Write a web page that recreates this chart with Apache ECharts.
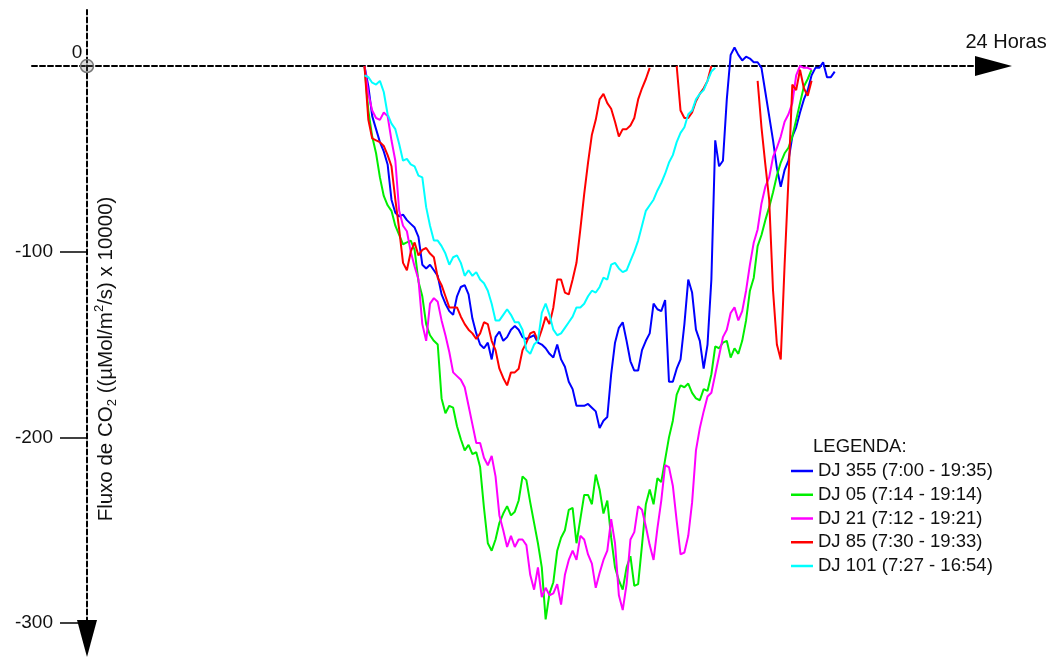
<!DOCTYPE html>
<html>
<head>
<meta charset="utf-8">
<script src="https://cdn.jsdelivr.net/npm/echarts@6/dist/echarts.min.js"></script>
<style>
  html, body { margin: 0; padding: 0; background: #ffffff; }
  #chart { width: 1055px; height: 657px; }
</style>
</head>
<body>
<div id="chart"></div>
<script>
// Sampling of the flux records: first sample hour and step (hours)
const startHour = 7.2;
const stepHour = 0.1;

const seriesNames = [
  'DJ 355 (7:00 - 19:35)',
  'DJ 05 (7:14 - 19:14)',
  'DJ 21 (7:12 - 19:21)',
  'DJ 85 (7:30 - 19:33)',
  'DJ 101 (7:27 - 16:54)'
];

// CO2 flux, (µMol/m²/s) x 10000; null = no value drawn
const dj355 = [
  0, -11, -27, -34, -41, -46, -53, -72, -79, -81,
  -80, -83, -85, -87, -92, -107, -109, -107, -110, -113,
  -123, -128, -132, -134, -124, -119, -118, -123, -136, -144,
  -150, -152, -149, -158, -146, -143, -148, -146, -142, -140,
  -142, -146, -147, -146, -145, -149, -150, -152, -155, -157,
  -150, -158, -162, -170, -174, -183, -183, -183, -182, -184,
  -186, -195, -191, -189, -166, -149, -141, -138, -148, -159,
  -164, -164, -153, -148, -144, -128, -131, -132, -126, -170,
  -170, -163, -158, -139, -115, -122, -142, -148, -163, -150,
  -115, -40, -54, -51, -18, 6, 10, 6, 3, 5,
  4, 2, 2, -1, -14, -27, -40, -55, -65, -56,
  -51, -38, -33, -25, -18, -13, -5, -1, -1, 2,
  -6, -6, -3];

const dj05 = [
  0, -24, -38, -47, -60, -70, -75, -78, -86, -91,
  -96, -95, -94, -99, -116, -124, -139, -145, -148, -150,
  -179, -187, -183, -184, -194, -201, -207, -204, -209, -208,
  -216, -238, -257, -261, -255, -246, -241, -237, -242, -240,
  -234, -221, -223, -235, -246, -257, -270, -298, -284, -278,
  -261, -254, -250, -239, -238, -257, -244, -231, -231, -236,
  -220, -228, -241, -234, -254, -270, -277, -282, -270, -264,
  -280, -279, -258, -236, -228, -236, -222, -224, -212, -200,
  -191, -177, -172, -173, -171, -176, -179, -180, -174, -175,
  -166, -151, -152, -149, -148, -157, -152, -155, -148, -137,
  -121, -114, -97, -91, -83, -76, -68, -59, -52, -47,
  -44, -38, -29, -20, -11, -7, -2];

const dj21 = [
  0, -15, -24, -28, -29, -25, -27, -40, -51, -78,
  -86, -89, -100, -108, -115, -139, -148, -128, -125, -127,
  -137, -145, -154, -165, -167, -169, -173, -183, -193, -203,
  -203, -211, -215, -210, -221, -242, -250, -259, -253, -259,
  -255, -255, -258, -274, -282, -270, -286, -281, -285, -284,
  -279, -290, -274, -266, -261, -266, -253, -255, -263, -268,
  -281, -273, -266, -261, -244, -257, -285, -293, -279, -255,
  -251, -237, -239, -248, -258, -266, -249, -234, -215, -216,
  -226, -245, -263, -262, -253, -235, -207, -195, -186, -178,
  -176, -166, -156, -146, -142, -133, -130, -137, -132, -121,
  -107, -95, -88, -74, -65, -60, -49, -44, -38, -30,
  -26, -20, -5, 0, -1, -1, -2];

const dj85 = [
  0, -29, -39, -40, -41, -43, -48, -54, -72, -88,
  -106, -110, -100, -95, -102, -99, -98, -101, -103, -114,
  -118, -124, -130, -130, -130, -135, -139, -142, -144, -147,
  -144, -138, -139, -148, -153, -163, -168, -172, -165, -165,
  -163, -153, -149, -144, -143, -148, -142, -135, -139, -130,
  -115, -115, -122, -123, -115, -106, -88, -69, -52, -37,
  -29, -18, -15, -20, -23, -30, -38, -34, -34, -32,
  -28, -18, -12, -7, -1, null, null, null, null, null,
  null, 0, -24, -28, -28, -25, -19, -15, -12, -8,
  0, null, null, null, null, null, null, null, null, null,
  null, null, -8, -33, -53, -72, -121, -150, -158, -107,
  -61, -10, -13, -2, -12, -16, -8];

const dj101 = [
  -5, -6, -9, -10, -8, -14, -26, -31, -34, -42,
  -51, -50, -53, -54, -59, -60, -76, -86, -94, -94,
  -97, -101, -107, -103, -102, -106, -113, -110, -113, -111,
  -115, -117, -121, -128, -137, -137, -134, -131, -134, -138,
  -138, -142, -153, -155, -150, -148, -133, -128, -134, -142,
  -145, -144, -141, -138, -135, -130, -130, -128, -124, -121,
  -122, -119, -114, -115, -107, -106, -109, -111, -110, -105,
  -100, -94, -86, -78, -75, -72, -67, -63, -58, -52,
  -48, -41, -36, -33, -26, -24, -18, -15, -13, -8,
  -3, -1];

const yTickValues = [-300, -200, -100];
const originLabel = '0';
const timeAxisName = '24 Horas';
const legendTitle = 'LEGENDA:';

const seriesValues = [dj355, dj05, dj21, dj85, dj101];
const seriesColors = ['#0000ff', '#00ee00', '#ff00ff', '#ff0000', '#00ffff'];

const FONT = 'Liberation Sans, Arial, sans-serif';
const INK = '#111111';

function toPairs(values) {
  return values.map(function (v, i) {
    const h = +(startHour + i * stepHour).toFixed(3);
    return [h, v === null ? '-' : v];
  });
}

const chart = echarts.init(document.getElementById('chart'), null, { renderer: 'canvas' });

const axisLineStyle = { color: '#000000', width: 2, type: [5, 3] };
const legendTop = 456;
const gridLeft = 32;

chart.setOption({
  animation: false,
  backgroundColor: '#ffffff',
  grid: { left: gridLeft, top: 10, width: 961.5, height: 628.5, containLabel: false, outerBoundsMode: 'none' },
  xAxis: {
    type: 'value',
    min: -1.427,
    max: 23.52,
    axisLine: {
      show: true, onZero: true,
      symbol: ['none', 'triangle'], symbolSize: [20, 37],
      lineStyle: axisLineStyle
    },
    axisTick: { show: false },
    axisLabel: { show: false },
    splitLine: { show: false }
  },
  yAxis: {
    type: 'value',
    min: -308.3,
    max: 30.16,
    axisLine: {
      show: true, onZero: true,
      symbol: ['triangle', 'none'], symbolSize: [20, 37],
      lineStyle: axisLineStyle
    },
    axisTick: {
      show: true, length: 27, inside: false,
      customValues: yTickValues,
      lineStyle: { color: '#000000', width: 1.5, type: 'solid' }
    },
    axisLabel: {
      show: true, margin: -21,
      customValues: yTickValues,
      color: INK, fontSize: 19, fontFamily: FONT
    },
    splitLine: { show: false }
  },
  legend: {
    orient: 'vertical',
    left: 786,
    top: legendTop,
    itemWidth: 22,
    itemHeight: 2.5,
    itemGap: 3.75,
    icon: 'rect',
    textStyle: { color: INK, fontSize: 18.5, fontFamily: FONT, lineHeight: 20 },
    data: seriesNames
  },
  series: seriesNames.map(function (name, k) {
    return {
      name: name,
      type: 'line',
      data: toPairs(seriesValues[k]),
      showSymbol: false,
      symbol: 'none',
      connectNulls: false,
      clip: false,
      color: seriesColors[k],
      lineStyle: { color: seriesColors[k], width: 2 },
      itemStyle: { color: seriesColors[k] },
      z: 3 + k
    };
  })
});

// Decorations placed relative to the axes
const origin = chart.convertToPixel({ gridIndex: 0 }, [0, 0]);
const tip = chart.convertToPixel({ gridIndex: 0 }, [23.52, 0]);

chart.setOption({
  graphic: [
    {
      type: 'circle',
      shape: { cx: origin[0], cy: origin[1], r: 6.5 },
      style: { fill: 'rgba(120,120,120,0.25)', stroke: '#777777', lineWidth: 1.5 },
      z: 20
    },
    {
      type: 'text',
      x: origin[0] - 10, y: origin[1] - 13,
      style: { text: originLabel, fill: INK, fontSize: 19, fontFamily: FONT,
               align: 'center', verticalAlign: 'middle' },
      z: 20
    },
    {
      type: 'text',
      x: tip[0] - 28, y: origin[1] - 24,
      style: { text: timeAxisName, fill: INK, fontSize: 20, fontFamily: FONT,
               align: 'left', verticalAlign: 'middle' },
      z: 20
    },
    {
      type: 'text',
      x: 813, y: legendTop - 9,
      style: { text: legendTitle, fill: INK, fontSize: 18.5, fontFamily: FONT,
               align: 'left', verticalAlign: 'middle' },
      z: 20
    },
    {
      type: 'text',
      x: origin[0] + 19, y: 359,
      rotation: Math.PI / 2,
      style: {
        text: '{n|Fluxo de CO}{sub|2}{n| ((µMol/m}{sup|2}{n|/s) x 10000)}',
        align: 'center', verticalAlign: 'middle',
        rich: {
          n: { fill: INK, fontSize: 20.5, fontFamily: FONT, lineHeight: 26 },
          sub: { fill: INK, fontSize: 13, fontFamily: FONT, verticalAlign: 'bottom', lineHeight: 15 },
          sup: { fill: INK, fontSize: 13, fontFamily: FONT, verticalAlign: 'top', lineHeight: 15 }
        }
      },
      z: 20
    }
  ]
});
</script>
</body>
</html>
